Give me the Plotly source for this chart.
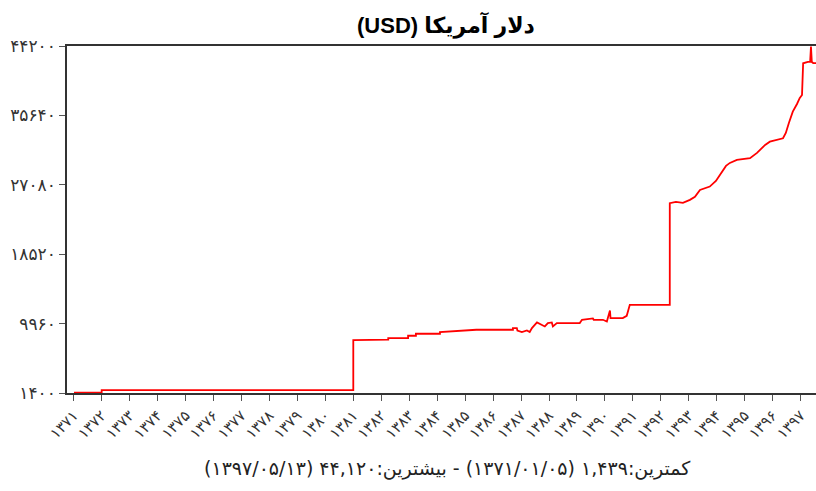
import plotly.graph_objects as go

# decimal (Persian) year and USD rate
years = [1371.01, 1372.0, 1372.0, 1381.0, 1381.0, 1381.45, 1381.45, 1382.25, 1382.25,
         1382.96, 1382.96, 1383.24, 1383.24, 1384.10, 1384.10, 1384.99, 1385.4,
         1386.71, 1386.71, 1386.85, 1386.87, 1387.03, 1387.21, 1387.31, 1387.39,
         1387.57, 1387.74, 1387.85, 1387.96, 1388.10, 1388.14, 1388.28, 1389.10,
         1389.18, 1389.57, 1389.60, 1389.93, 1390.07, 1390.18, 1390.20, 1390.28,
         1390.64, 1390.78, 1390.82, 1390.89, 1392.32, 1392.32, 1392.54, 1392.79,
         1393.04, 1393.22, 1393.40, 1393.58, 1393.75, 1393.97, 1394.17, 1394.33,
         1394.47, 1394.72, 1395.19, 1395.44, 1395.73, 1395.90, 1396.37, 1396.47,
         1396.58, 1396.72, 1396.87, 1396.97, 1397.05, 1397.09, 1397.26, 1397.34,
         1397.37, 1397.40, 1397.45, 1397.56]
usd = [1439, 1439, 1750, 1750, 7930, 7930, 7970, 7970, 8180,
       8180, 8460, 8460, 8710, 8710, 8920, 9110, 9200,
       9200, 9410, 9410, 9110, 8920, 9110, 8920, 9410,
       10100, 9820, 9610, 10020, 10100, 9610, 10020, 10020,
       10430, 10600, 10430, 10430, 10220, 11580, 10640, 10640,
       10640, 10920, 11500, 12280, 12280, 24810, 24970, 24850,
       25220, 25590, 26450, 26700, 26860, 27560, 28510, 29410,
       29780, 30150, 30360, 31010, 32000, 32400, 32820, 33480,
       34710, 36100, 37050, 37790, 38160, 42070, 42230, 42230,
       44120, 42230, 42100, 42100]

x_tick_vals = list(range(1371, 1398))
x_tick_text = ["۱۳۷۱", "۱۳۷۲", "۱۳۷۳", "۱۳۷۴", "۱۳۷۵", "۱۳۷۶", "۱۳۷۷", "۱۳۷۸", "۱۳۷۹",
               "۱۳۸۰", "۱۳۸۱", "۱۳۸۲", "۱۳۸۳", "۱۳۸۴", "۱۳۸۵", "۱۳۸۶", "۱۳۸۷", "۱۳۸۸",
               "۱۳۸۹", "۱۳۹۰", "۱۳۹۱", "۱۳۹۲", "۱۳۹۳", "۱۳۹۴", "۱۳۹۵", "۱۳۹۶", "۱۳۹۷"]
y_tick_vals = [1400, 9960, 18520, 27080, 35640, 44200]
y_tick_text = ["۱۴۰۰", "۹۹۶۰", "۱۸۵۲۰", "۲۷۰۸۰", "۳۵۶۴۰", "۴۴۲۰۰"]

title_text = "دلار آمریکا (USD)"
footer_text = "کمترین:۱,۴۳۹ (۱۳۷۱/۰۱/۰۵) - بیشترین:۴۴,۱۲۰ (۱۳۹۷/۰۵/۱۳)"

FONT = "DejaVu Sans, Noto Sans, sans-serif"
TFONT = "Liberation Sans, DejaVu Sans, sans-serif"
W, H = 816, 491
ML, MR, MT, MB = 67, 0, 46, 98
PW, PH = W - ML - MR, H - MT - MB


def px2paper(px, py):
    return (px - ML) / PW, (H - MB - py) / PH


tx, ty = px2paper(446, 25)
fx, fy = px2paper(447, 468)

fig = go.Figure()
fig.add_trace(go.Scatter(x=years, y=usd, mode="lines",
                         line=dict(color="#ff0000", width=1.8),
                         hoverinfo="skip", showlegend=False))

fig.update_layout(
    width=W, height=H,
    margin=dict(l=ML, r=MR, t=MT, b=MB, autoexpand=False),
    paper_bgcolor="white", plot_bgcolor="white",
    font=dict(family=FONT, color="#333"),
    annotations=[
        dict(text="<b>\u202b" + title_text + "\u202c</b>", x=tx, y=ty,
             xref="paper", yref="paper", xanchor="center", yanchor="middle",
             showarrow=False, font=dict(size=22, color="#000", family=TFONT)),
        dict(text="\u202b" + footer_text + "\u202c", x=fx, y=fy,
             xref="paper", yref="paper", xanchor="center", yanchor="middle",
             showarrow=False, font=dict(size=19, color="#222", family=FONT)),
    ],
)
fig.update_xaxes(range=[1370.76, 1397.55], showgrid=False, zeroline=False,
                 automargin=False,
                 showline=True, linecolor="#333", linewidth=1.6, mirror=True,
                 ticks="outside", ticklen=6, tickcolor="#555", tickwidth=1,
                 tickvals=x_tick_vals, ticktext=x_tick_text, tickangle=-45,
                 tickfont=dict(size=15, color="#333", family=FONT))
fig.update_yaxes(range=[1400, 44200], showgrid=False, zeroline=False,
                 automargin=False,
                 showline=True, linecolor="#333", linewidth=1.6,
                 ticks="outside", ticklen=6, tickcolor="#555", tickwidth=1,
                 tickvals=y_tick_vals, ticktext=y_tick_text,
                 tickfont=dict(size=17, color="#333", family=FONT))

fig.write_html("out.html", config={"displayModeBar": False},
               post_script="document.body.style.margin='0';document.body.style.overflow='hidden';")
